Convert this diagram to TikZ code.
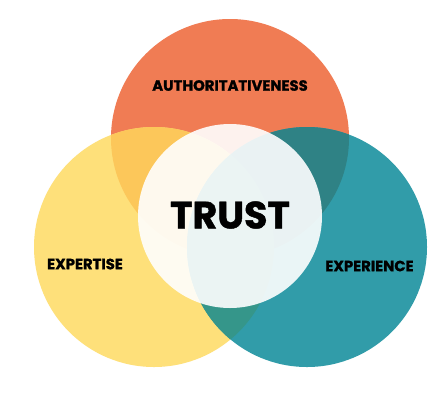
\documentclass[tikz,border=0pt]{standalone}
\usepackage{fontspec}
\setmainfont{Poppins}
\newfontfamily\heavy{Poppins}[BoldFeatures={FakeBold=1.2}]
\definecolor{orng}{HTML}{F07C54}
\definecolor{yell}{HTML}{FEE07A}
\definecolor{teal}{HTML}{319CA9}
\definecolor{oy}{HTML}{FCC75A}
\definecolor{ot}{HTML}{2F8285}
\definecolor{yt}{HTML}{35968A}
\tikzset{lbl/.style={font=\heavy\bfseries\fontsize{14.8}{16}\selectfont, text=black, inner sep=0pt}}
\begin{document}
\begin{tikzpicture}[x=1pt,y=-1pt]
\useasboundingbox (0,0) rectangle (444,400);
\fill[white] (0,0) rectangle (444,400);
\coordinate (co) at (230,138);
\coordinate (cy) at (154,247);
\coordinate (ct) at (307,247);
\coordinate (cc) at (230,216);
\fill[orng] (co) circle (119);
\fill[yell] (cy) circle (120);
\fill[teal] (ct) circle (120);
\begin{scope}
\clip (co) circle (119);
\fill[oy] (cy) circle (120);
\fill[ot] (ct) circle (120);
\end{scope}
\begin{scope}
\clip (cy) circle (120);
\fill[yt] (ct) circle (120);
\end{scope}
\fill[white, fill opacity=0.9] (cc) circle (92);
\node[lbl] (auth) at (230,85.5) {AUTHORITATIVENESS};
\node[lbl] (expt) at (85,264) {EXPERTISE};
\node[lbl] (expr) at (369.5,266) {EXPERIENCE};
\node[lbl, font=\heavy\bfseries\fontsize{38}{40}\selectfont] (trust) at (230,215) {TRUST};
\end{tikzpicture}
\end{document}
